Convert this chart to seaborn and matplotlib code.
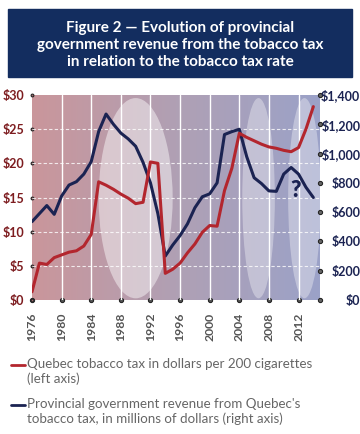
import numpy as np
import pandas as pd
import seaborn as sns
import matplotlib
matplotlib.use("Agg")
from matplotlib import pyplot as plt
from matplotlib.patches import Ellipse, Rectangle
from matplotlib.lines import Line2D
from matplotlib.colors import LinearSegmentedColormap

sns.set_style("white")
plt.rcParams['font.family'] = ['Lato', 'DejaVu Sans']

# data
years = list(range(1976, 2015))
tax = [1.2, 5.4, 5.2, 6.2, 6.6, 7.0, 7.2, 7.9, 9.6, 17.3,
       16.8, 16.2, 15.5, 14.9, 14.1, 14.3, 20.2, 20.0, 3.9, 4.5,
       5.4, 6.9, 8.2, 9.9, 10.9, 10.8, 16.0, 19.3, 24.4, 23.8,
       23.3, 22.8, 22.4, 22.2, 21.9, 21.7, 22.3, 25.0, 28.3]
revenue = [535, 590, 645, 585, 710, 785, 808, 860, 945, 1150,
           1270, 1200, 1140, 1100, 1050, 940, 800, 590, 300, 375,
           440, 520, 630, 705, 725, 800, 1130, 1150, 1166, 979,
           835, 795, 745, 742, 860, 905, 860, 770, 700]

xticks = list(range(1976, 2013, 4))
left_ticks = [0, 5, 10, 15, 20, 25, 30]
right_ticks = [0, 200, 400, 600, 800, 1000, 1200, 1400]

df = pd.DataFrame({'year': years, 'tax': tax, 'revenue': revenue})

red = '#b3262e'
navy = '#1b2352'
maroon = '#7d1c1f'

fig = plt.figure(figsize=(3.6, 4.34), dpi=100)

# title box
fig.patches.append(Rectangle((8/360, 1-77/434), 344/360, 68/434,
                             transform=fig.transFigure, color='#132d5f', zorder=0))
fig.text(0.5, 1-45/434,
         'Figure 2 \u2014 Evolution of provincial\ngovernment revenue from the tobacco tax\nin relation to the tobacco tax rate',
         ha='center', va='center', color='white', fontsize=11, fontweight='bold',
         linespacing=1.28)

ax = fig.add_axes([32/360, 1-300/434, 288/360, 205/434])
x0, x1 = 1976, 2014.9
ax.set_xlim(x0, x1)
ax.set_ylim(0, 30)

# background gradient
cmap = LinearSegmentedColormap.from_list('bg', ['#ca969b', '#b0a0b4', '#9ba2c8'])
grad = np.linspace(0, 1, 256).reshape(1, -1)
ax.imshow(grad, cmap=cmap, extent=[x0, x1, 0, 30], aspect='auto', zorder=0)

# light ellipses
for cx, w, a in [(1990, 10, 0.45), (2006.6, 4.4, 0.35), (2012.8, 4.4, 0.35)]:
    ax.add_patch(Ellipse((cx, 14.9), w, 29.3, facecolor='white', alpha=a,
                         edgecolor='none', zorder=1))

for xt in xticks[1:]:
    ax.axvline(xt, color='white', lw=1, zorder=2)
for yt in left_ticks[1:-1]:
    ax.axhline(yt, color='white', lw=0.8, ls=(0, (3, 2)), alpha=0.8, zorder=2)

# revenue on the right scale, tax on the left scale (drawn on top)
ax2 = ax.twinx()
ax2.set_ylim(0, 1400)
sns.lineplot(data=df, x='year', y='revenue', ax=ax2, color=navy, lw=2.2)

ax3 = ax.twinx()
ax3.set_ylim(0, 30)
sns.lineplot(data=df, x='year', y='tax', ax=ax3, color=red, lw=2.2)
ax3.set_yticks([])
ax3.text(2011.6, 16.0, '?', color=navy, fontsize=16, fontweight='heavy',
         ha='center', va='center')

for a in (ax, ax2, ax3):
    for s in a.spines.values():
        s.set_visible(False)
    a.set_xlabel('')
    a.set_ylabel('')
    a.grid(False)
    a.set_xlim(x0, x1)

ax.set_xticks(xticks)
ax.set_xticklabels([str(y) for y in xticks], rotation=90, fontsize=8.8,
                   fontweight='bold', color='#555555')
ax.set_yticks(left_ticks)
ax.set_yticklabels(['$' + str(v) for v in left_ticks], fontsize=9,
                   fontweight='bold', color=maroon)
ax.tick_params(axis='x', pad=6, length=3, bottom=True)
ax.tick_params(axis='y', pad=2.5, length=3, left=True)
ax2.set_yticks(right_ticks)
ax2.set_yticklabels(['${:,}'.format(v) for v in right_ticks], fontsize=9,
                    fontweight='bold', color=navy)
ax2.tick_params(axis='y', pad=26, length=3, right=True)
for lbl in ax2.get_yticklabels():
    lbl.set_horizontalalignment('right')

for t in ax.xaxis.get_major_ticks():
    t.tick1line.set_marker('o')
    t.tick1line.set_markersize(3)
    t.tick1line.set_color('#555555')
for t in ax.yaxis.get_major_ticks():
    t.tick1line.set_marker('o')
    t.tick1line.set_markersize(2)
    t.tick1line.set_color('#a06a6e')
for t in ax2.yaxis.get_major_ticks():
    t.tick2line.set_marker('o')
    t.tick2line.set_markersize(3)
    t.tick2line.set_color('#666666')

# legend
entries = [(red, 1-365/434, 'Quebec tobacco tax in dollars per 200 cigarettes\n(left axis)'),
           (navy, 1-405/434, "Provincial government revenue from Quebec's\ntobacco tax, in millions of dollars (right axis)")]
for col, yy, label in entries:
    fig.add_artist(Line2D([11/360, 25/360], [yy, yy], color=col, lw=2,
                          transform=fig.transFigure))
    fig.text(27/360, yy + 7/434, label, ha='left', va='top', fontsize=9.6,
             color='#666666', fontweight='normal', linespacing=1.2)

fig.savefig('out.png', dpi=100)
